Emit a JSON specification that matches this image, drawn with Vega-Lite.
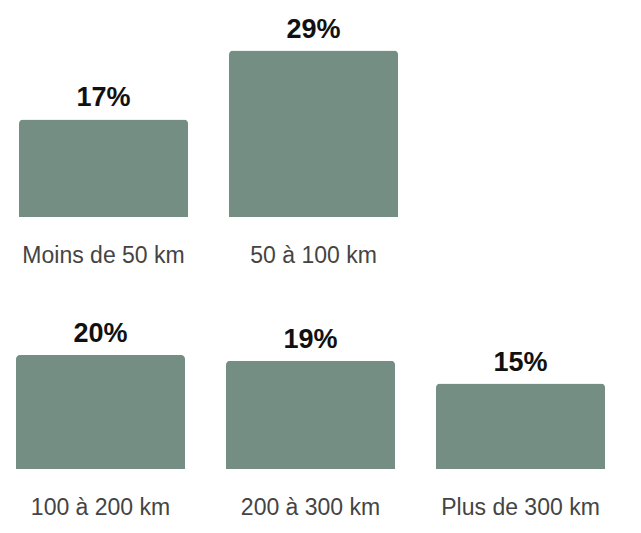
{
  "$schema": "https://vega.github.io/schema/vega-lite/v6.json",
  "padding": 0,
  "background": "white",
  "config": {"view": {"stroke": null}, "font": "Liberation Sans"},
  "data": {"values": [
    {"row": 1, "cat": "Moins de 50 km", "pct": 0.17},
    {"row": 1, "cat": "50 à 100 km", "pct": 0.29},
    {"row": 2, "cat": "100 à 200 km", "pct": 0.20},
    {"row": 2, "cat": "200 à 300 km", "pct": 0.19},
    {"row": 2, "cat": "Plus de 300 km", "pct": 0.15}
  ]},
  "bounds": "flush",
  "spacing": 60,
  "vconcat": [
    {
      "width": {"step": 210},
      "height": 217,
      "transform": [{"filter": "datum.row === 1"}],
      "encoding": {
        "x": {"field": "cat", "type": "nominal", "sort": null,
          "scale": {"paddingInner": 0.195, "paddingOuter": 0.0905},
          "axis": {"title": null, "domain": false, "ticks": false, "labelFontSize": 23, "labelColor": "#444444", "labelPadding": 27, "labelAngle": 0, "labelLimit": 0}},
        "y": {"field": "pct", "type": "quantitative", "scale": {"domain": [0, 0.378]}, "axis": null}
      },
      "layer": [
        {"mark": {"type": "bar", "color": "#748e84", "cornerRadiusTopLeft": 4, "cornerRadiusTopRight": 4}},
        {"mark": {"type": "text", "dy": -13, "baseline": "alphabetic", "fontSize": 27, "fontWeight": "bold", "color": "#111111"},
         "encoding": {"text": {"field": "pct", "type": "quantitative", "format": ".0%"}}}
      ]
    },
    {
      "width": {"step": 210},
      "height": 192,
      "transform": [{"filter": "datum.row === 2"}],
      "encoding": {
        "x": {"field": "cat", "type": "nominal", "sort": null,
          "scale": {"paddingInner": 0.195, "paddingOuter": 0.0762},
          "axis": {"title": null, "domain": false, "ticks": false, "labelFontSize": 23, "labelColor": "#444444", "labelPadding": 27, "labelAngle": 0, "labelLimit": 0}},
        "y": {"field": "pct", "type": "quantitative", "scale": {"domain": [0, 0.337]}, "axis": null}
      },
      "layer": [
        {"mark": {"type": "bar", "color": "#748e84", "cornerRadiusTopLeft": 4, "cornerRadiusTopRight": 4}},
        {"mark": {"type": "text", "dy": -13, "baseline": "alphabetic", "fontSize": 27, "fontWeight": "bold", "color": "#111111"},
         "encoding": {"text": {"field": "pct", "type": "quantitative", "format": ".0%"}}}
      ]
    }
  ]
}
